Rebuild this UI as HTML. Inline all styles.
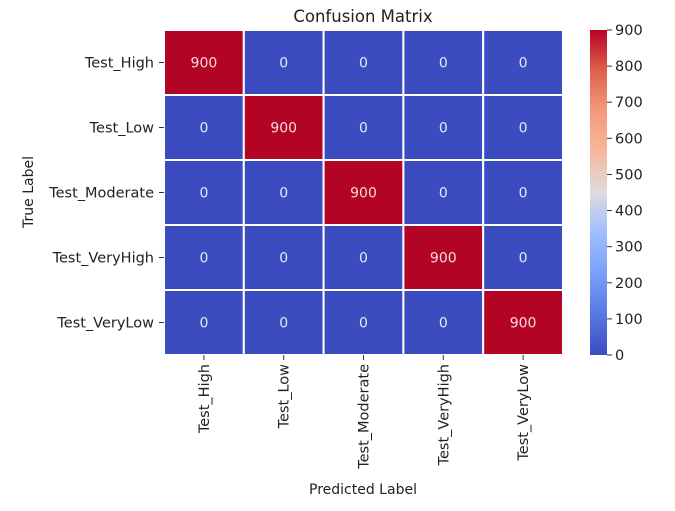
<!DOCTYPE html>
<html><head><meta charset="utf-8"><style>
body{margin:0;background:#fff;font-family:"DejaVu Sans",sans-serif;}
svg text{font-family:"DejaVu Sans",sans-serif;}
</style></head><body>
<svg width="675" height="507" viewBox="0 0 675 507">
<defs>
<linearGradient id="cw" x1="0" y1="1" x2="0" y2="0">
<stop offset="0" stop-color="#3b4cc0"/><stop offset="0.125" stop-color="#5977e3"/>
<stop offset="0.25" stop-color="#7b9ff9"/><stop offset="0.375" stop-color="#9ebeff"/>
<stop offset="0.5" stop-color="#dddcdc"/><stop offset="0.625" stop-color="#f7b89c"/>
<stop offset="0.75" stop-color="#f49a7b"/><stop offset="0.875" stop-color="#de604d"/>
<stop offset="1" stop-color="#b40426"/></linearGradient></defs>
<text x="363" y="22" text-anchor="middle" font-size="16.5" fill="#222">Confusion Matrix</text>
<g id="cells"></g>
<g id="ylabels"></g>
<g id="xlabels"></g>
<text x="363" y="494" text-anchor="middle" font-size="14" fill="#222">Predicted Label</text>
<text transform="translate(33,192) rotate(-90)" text-anchor="middle" font-size="14" fill="#222">True Label</text>
<rect x="590" y="30" width="17" height="325" fill="url(#cw)"/>
<g id="cbticks"></g>
</svg>
<script>
const labels=["Test_High","Test_Low","Test_Moderate","Test_VeryHigh","Test_VeryLow"];
const matrix=[[900,0,0,0,0],[0,900,0,0,0],[0,0,900,0,0],[0,0,0,900,0],[0,0,0,0,900]];
const cbTicks=[0,100,200,300,400,500,600,700,800,900];
const NS="http://www.w3.org/2000/svg";
const X0=164,Y0=30,W=399,H=325,vmax=900;
const cw=W/labels.length,ch=H/labels.length;
function mk(t,a,p){const e=document.createElementNS(NS,t);for(const k in a)e.setAttribute(k,a[k]);p.appendChild(e);return e;}
function color(v){const t=v/vmax;const s=[[59,76,192],[221,220,220],[180,4,38]];let a,b,f;if(t<0.5){a=s[0];b=s[1];f=t*2}else{a=s[1];b=s[2];f=(t-0.5)*2}return `rgb(${a.map((c,i)=>Math.round(c+(b[i]-c)*f)).join(",")})`;}
const cells=document.getElementById('cells');
matrix.forEach((row,i)=>row.forEach((v,j)=>{
 const r=mk('rect',{x:X0+j*cw,y:Y0+i*ch,width:cw,height:ch,fill:color(v),stroke:'#fff','stroke-width':2},cells);
 
 
 const t=mk('text',{x:X0+(j+.5)*cw,y:Y0+(i+.5)*ch+5,'text-anchor':'middle','font-size':14,fill:v>vmax/2?'#f4dcdc':'#e8e8f4'},cells);
 t.textContent=v;
 
 
}));
const yl=document.getElementById('ylabels'),xl=document.getElementById('xlabels');
labels.forEach((l,i)=>{
 const y=Y0+(i+.5)*ch;
 mk('line',{x1:X0-5,x2:X0,y1:y,y2:y,stroke:'#333'},yl);
 const t=mk('text',{x:X0-10,y:y+5,'text-anchor':'end','font-size':14.5,fill:'#222'},yl);
 t.textContent=l;
 
 
 const x=X0+(i+.5)*cw;
 mk('line',{x1:x,x2:x,y1:Y0+H,y2:Y0+H+5,stroke:'#333'},xl);
 const u=mk('text',{transform:`translate(${x+5},${Y0+H+9}) rotate(-90)`,'text-anchor':'end','font-size':14.5,fill:'#222'},xl);
 u.textContent=l;
 
 
});
const cb=document.getElementById('cbticks');
cbTicks.forEach(v=>{
 const y=Y0+H-v/vmax*H;
 mk('line',{x1:607,x2:612,y1:y,y2:y,stroke:'#333'},cb);
 const t=mk('text',{x:615,y:y+5,'font-size':14.5,fill:'#222'},cb);
 t.textContent=v;
 
 
});
</script>
</body></html>
